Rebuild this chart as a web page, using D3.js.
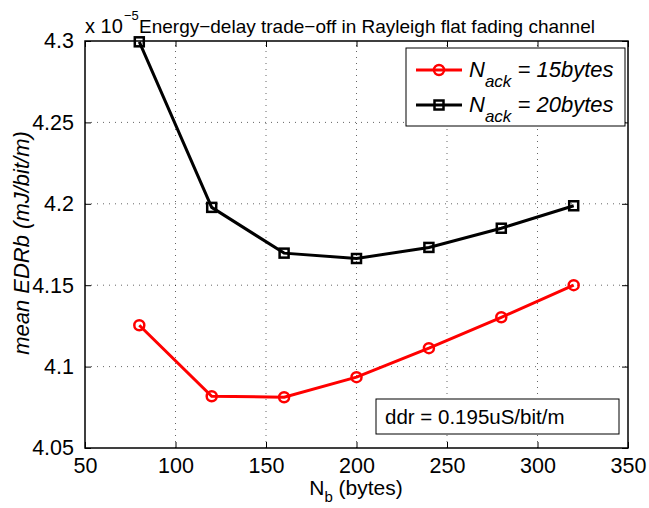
<!DOCTYPE html>
<html><head><meta charset="utf-8">
<script src="https://cdn.jsdelivr.net/npm/d3@7"></script>
<style>body{margin:0;background:#fff}svg{display:block;font-family:"Liberation Sans",Arial,sans-serif}</style>
</head><body>
<script>
const xValues = [80, 120, 160, 200, 240, 280, 320];
const series15 = [4.1254, 4.0818, 4.0812, 4.0935, 4.1113, 4.1303, 4.1500];
const series20 = [4.2995, 4.1978, 4.1697, 4.1664, 4.1732, 4.1850, 4.1988];
const xTicks = [50, 100, 150, 200, 250, 300, 350];
const yTicks = [4.05, 4.1, 4.15, 4.2, 4.25, 4.3];
const yTickLabels = ["4.05", "4.1", "4.15", "4.2", "4.25", "4.3"];

const W = 649, H = 508;
const m = {l: 85, r: 21, t: 41, b: 60};
const svg = d3.select("body").append("svg").attr("width", W).attr("height", H);
const x = d3.scaleLinear().domain([50, 350]).range([m.l, W - m.r]);
const y = d3.scaleLinear().domain([4.05, 4.3]).range([H - m.b, m.t]);
const x0 = m.l, x1 = W - m.r, y0 = H - m.b, y1 = m.t;

// grid
const g = svg.append("g");
g.selectAll(".gx").data(xTicks.slice(1, -1)).enter().append("line")
  .attr("x1", d => x(d)).attr("x2", d => x(d)).attr("y1", y0).attr("y2", y1)
  .attr("stroke", "#000").attr("stroke-width", 1).attr("stroke-dasharray", "1,5").attr("opacity", 0.6);
g.selectAll(".gy").data(yTicks.slice(1, -1)).enter().append("line")
  .attr("y1", d => y(d)).attr("y2", d => y(d)).attr("x1", x0).attr("x2", x1)
  .attr("stroke", "#000").attr("stroke-width", 1).attr("stroke-dasharray", "1,5").attr("opacity", 0.6);

// axes with inward ticks
const axB = d3.axisBottom(x).tickValues(xTicks).tickSize(-6).tickPadding(10).tickFormat(d3.format("d"));
const axT = d3.axisTop(x).tickValues(xTicks).tickSize(-6).tickFormat("");
const axL = d3.axisLeft(y).tickValues(yTicks).tickSize(-6).tickPadding(11).tickFormat((d, i) => yTickLabels[i]);
const axR = d3.axisRight(y).tickValues(yTicks).tickSize(-6).tickFormat("");
function style(sel) {
  sel.select(".domain").remove();
  sel.selectAll("line").attr("stroke", "#000");
  sel.selectAll("text").attr("fill", "#000").style("font-size", "21.5px").style("font-family", "Liberation Sans, Arial, sans-serif");
}
svg.append("g").attr("transform", `translate(0,${y0})`).call(axB).call(style);
svg.append("g").attr("transform", `translate(0,${y1})`).call(axT).call(style);
svg.append("g").attr("transform", `translate(${x0},0)`).call(axL).call(style);
svg.append("g").attr("transform", `translate(${x1},0)`).call(axR).call(style);
svg.append("rect").attr("x", x0).attr("y", y1).attr("width", x1 - x0).attr("height", y0 - y1)
  .attr("fill", "none").attr("stroke", "#000").attr("stroke-width", 1.5);

// lines
const line = d3.line().x((d, i) => x(xValues[i])).y(d => y(d));
svg.append("path").datum(series15).attr("d", line).attr("fill", "none").attr("stroke", "#ff0000").attr("stroke-width", 3);
svg.append("path").datum(series20).attr("d", line).attr("fill", "none").attr("stroke", "#000").attr("stroke-width", 3);
svg.selectAll(".m15").data(series15).enter().append("circle")
  .attr("cx", (d, i) => x(xValues[i])).attr("cy", d => y(d)).attr("r", 5)
  .attr("fill", "none").attr("stroke", "#ff0000").attr("stroke-width", 2.5);
svg.selectAll(".m20").data(series20).enter().append("rect")
  .attr("x", (d, i) => x(xValues[i]) - 4.5).attr("y", d => y(d) - 4.5).attr("width", 9).attr("height", 9)
  .attr("fill", "none").attr("stroke", "#000").attr("stroke-width", 2.5);

// title
svg.append("text").attr("x", 85).attr("y", 33).style("font-size", "20px").text("x 10");
svg.append("text").attr("x", 124).attr("y", 20).style("font-size", "13px").text("\u22125");
svg.append("text").attr("x", 139).attr("y", 33).style("font-size", "19px").text("Energy\u2212delay trade\u2212off in Rayleigh flat fading channel");

// axis labels
const xl = svg.append("text").attr("x", 356).attr("y", 495).attr("text-anchor", "middle").style("font-size", "21px");
xl.append("tspan").text("N");
xl.append("tspan").attr("dy", 7).style("font-size", "15px").text("b");
xl.append("tspan").attr("dy", -7).text(" (bytes)");
svg.append("text").attr("transform", `translate(29,243) rotate(-90)`).attr("text-anchor", "middle")
  .style("font-size", "22px").style("font-style", "italic").text("mean EDRb (mJ/bit/m)");

// legend
const lg = svg.append("g");
lg.append("rect").attr("x", 406).attr("y", 48).attr("width", 219).attr("height", 78)
  .attr("fill", "#fff").attr("stroke", "#000").attr("stroke-width", 1);
const legendItems = [{c: "#ff0000", t: "15bytes", sym: "circle"}, {c: "#000", t: "20bytes", sym: "square"}];
legendItems.forEach((it, i) => {
  const cy = 70 + i * 35;
  lg.append("line").attr("x1", 416).attr("x2", 462).attr("y1", cy).attr("y2", cy).attr("stroke", it.c).attr("stroke-width", 3);
  if (it.sym === "circle") lg.append("circle").attr("cx", 439).attr("cy", cy).attr("r", 5).attr("fill", "none").attr("stroke", it.c).attr("stroke-width", 2.5);
  else lg.append("rect").attr("x", 434.5).attr("y", cy - 4.5).attr("width", 9).attr("height", 9).attr("fill", "none").attr("stroke", it.c).attr("stroke-width", 2.5);
  const t = lg.append("text").attr("x", 469).attr("y", cy + 7).style("font-size", "22px").style("font-style", "italic");
  t.append("tspan").text("N");
  t.append("tspan").attr("dy", 10).style("font-size", "17px").text("ack");
  t.append("tspan").attr("dy", -10).text(" = " + it.t);
});

// annotation box
svg.append("rect").attr("x", 376).attr("y", 399).attr("width", 243).attr("height", 35)
  .attr("fill", "#fff").attr("stroke", "#000").attr("stroke-width", 1);
svg.append("text").attr("x", 385).attr("y", 424).style("font-size", "20.5px").text("ddr = 0.195uS/bit/m");
</script>
</body></html>
